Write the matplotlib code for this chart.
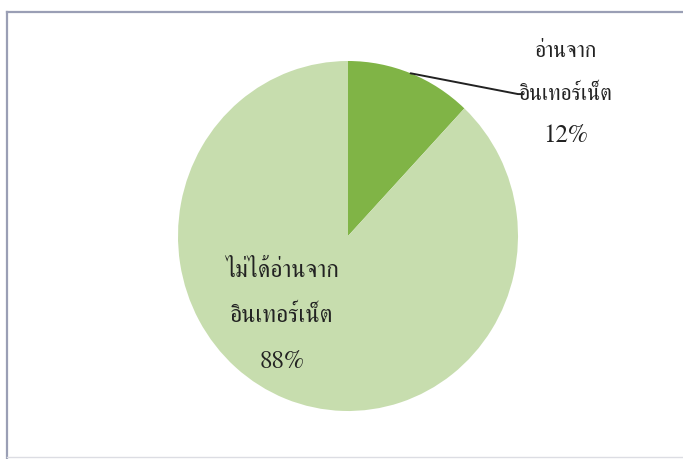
import numpy as np
import matplotlib
matplotlib.use("Agg")
import matplotlib.pyplot as plt
from matplotlib.lines import Line2D

# survey result: share of respondents who read from the internet
labels = ["อ่านจาก\nอินเทอร์เน็ต", "ไม่ได้อ่านจาก\nอินเทอร์เน็ต"]
values = [12, 88]
colors = ["#80b446", "#c7ddae"]

INK = "#222222"
FRAME = "#9a9fb5"
THAI_FONT = ["FreeSerif", "DejaVu Serif"]

W, H = 683, 460
fig = plt.figure(figsize=(W / 100, H / 100), dpi=100, facecolor="white")

# chart-area frame (left/top edges visible, right side runs off the canvas)
fig.add_artist(Line2D([7 / W, 7 / W], [0, 1 - 13 / H], color=FRAME, lw=1.6))
fig.add_artist(Line2D([7 / W, 1], [1 - 13 / H, 1 - 13 / H], color=FRAME, lw=1.6))
fig.add_artist(Line2D([7 / W, 1], [2 / H, 2 / H], color="#dcdde3", lw=1.0))

# pie is drawn slightly taller than wide
cx, cy, rx, ry = 348, 237, 170, 175
ax = fig.add_axes([(cx - rx) / W, 1 - (cy + ry) / H, 2 * rx / W, 2 * ry / H])
wedges, _ = ax.pie(values, colors=colors, startangle=90, counterclock=False,
                   wedgeprops=dict(linewidth=0))
ax.set_aspect("auto")
ax.set_xlim(-1, 1)
ax.set_ylim(-1, 1)
ax.axis("off")

total = sum(values)
pct = [f"{v / total * 100:.0f}%" for v in values]


def draw_label(lines, x, ys, thai_size):
    for i, (txt, y) in enumerate(zip(lines, ys)):
        size = 18 if i == len(lines) - 1 else thai_size
        ax.text(x, y, txt, ha="center", va="baseline", fontsize=size,
                color=INK, family=THAI_FONT, clip_on=False)


# small slice: label outside with a leader line
draw_label(labels[0].split("\n") + [pct[0]], 1.28, [1.03, 0.783, 0.543], 15.5)
w = wedges[0]
mid = np.deg2rad((w.theta1 + w.theta2) / 2)
x0, y0 = np.cos(mid), np.sin(mid)
ax.plot([x0, 1.0, 1.03], [y0, 0.811, 0.811], color="#222222", lw=1.4,
        clip_on=False, solid_capstyle="round")

# large slice: label inside
draw_label(labels[1].split("\n") + [pct[1]], -0.39, [-0.229, -0.486, -0.749], 17)

fig.savefig("out.png", dpi=100, facecolor="white")
